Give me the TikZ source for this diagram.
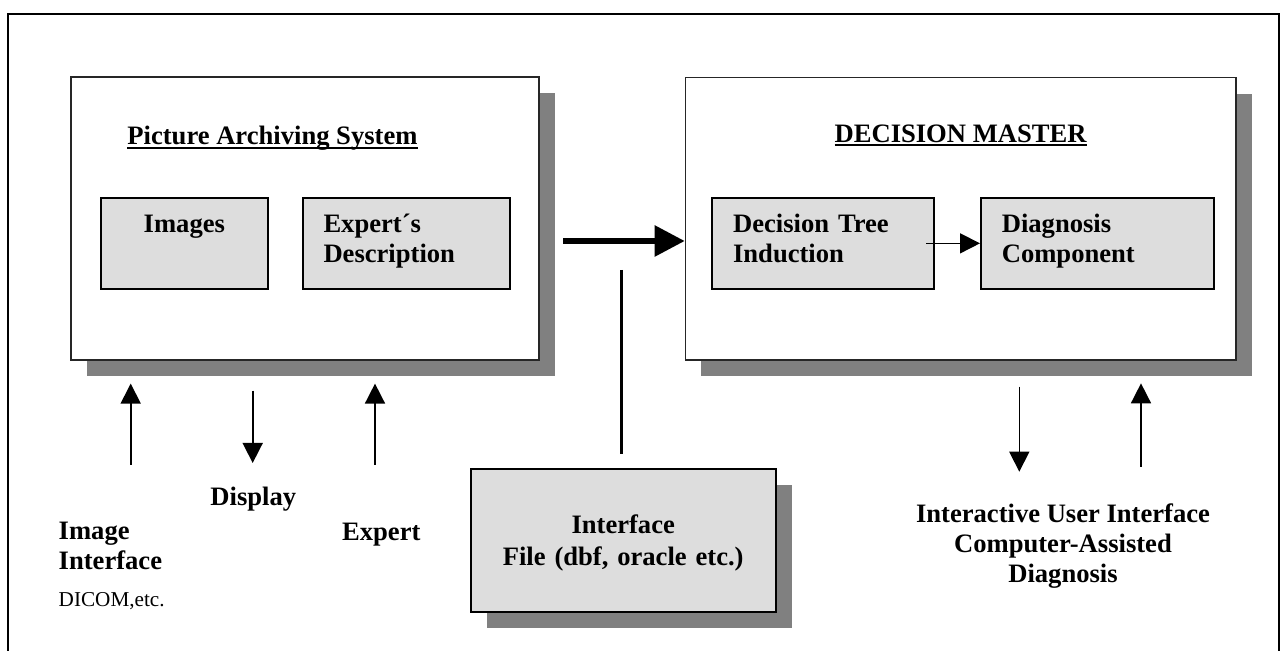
\documentclass[tikz,border=0pt]{standalone}
\usepackage{fontspec}
\setmainfont{Liberation Serif}
\usepackage{tikz}
\usetikzlibrary{arrows.meta,positioning,shadows}
\definecolor{boxgray}{HTML}{DDDDDD}
\definecolor{shadegray}{HTML}{808080}
\newcommand\lblfont{\fontsize{13.3pt}{15pt}\selectfont\bfseries}
\newcommand\smlfont{\fontsize{10.6pt}{12pt}\selectfont}
\newcommand\ttlline[1]{\setbox0\hbox{#1}\rlap{\vrule width\wd0 height -0.8pt depth 1.8pt}\box0}

\begin{document}
\begin{tikzpicture}[x=0.5pt, y=-0.5pt,
		>={Triangle[length=10pt,width=10pt]},
		node distance = 16pt,
		outbox/.style = {draw=black!85, line width=0.6pt, fill=white, inner sep=0pt,
			drop shadow={shadow xshift=8pt, shadow yshift=-8pt, fill=shadegray, opacity=1}},
		inbox/.style = {draw, line width=1pt, fill=boxgray, inner xsep=10.4pt, inner ysep=0pt,
			text height=17.65pt, text depth=28pt, align=left, font=\lblfont},
		lbl/.style = {inner sep=0pt, font=\lblfont},
		arr/.style = {->, line width=0.8pt},
		feedarr/.style = {-{Triangle[length=15pt,width=15pt]}, line width=2.8pt}
		]
		\useasboundingbox (0,0) rectangle (1287,651);
		\draw[line width=1.1pt] (8,651) -- (8,14) -- (1279,14) -- (1279,651);
		
		\node (pas) [outbox, minimum width=234pt, minimum height=141.5pt] at (305,218.5) {};
		\node (dm) [outbox, minimum width=275.35pt, minimum height=141.15pt] at (960.65,218.9) {};
		\node (pastitle) [lbl, anchor=base west] at (127,145) {\ttlline{Picture Archiving System}};
		\node (dmtitle) [lbl, anchor=base] at (960.6,142.7) {\ttlline{DECISION MASTER}};
		
		\node (img) [inbox, align=center, text width=62.85pt] at (184.35,243.35) {Images};
		\node (expd) [inbox, text width=82.85pt, right=16.35pt of img] {Expert´s\\Description};
		\node (dti) [inbox, text width=90.05pt] at (823.15,243.35) {Decision Tree\\Induction};
		\node (dc) [inbox, text width=95.85pt, right=22.5pt of dti] {Diagnosis\\Component};
		
		\node (iface) [outbox, draw=black, line width=1pt, fill=boxgray, align=center, text width=152.5pt,
			text height=32.65pt, text depth=38.85pt, font=\lblfont] at (623.2,540.2) {Interface\\[1pt]File (dbf, oracle etc.)};
		
		\node (imglbl) [lbl, anchor=base west, align=left] at (58.3,570) {Image\\Interface};
		\node (dicom) [inner sep=0pt, font=\smlfont, anchor=base west] at (58.3,606.7) {DICOM,etc.};
		\node (displbl) [lbl, anchor=base] at (253.3,506) {Display};
		\node (explbl) [lbl, anchor=base] at (381.3,541) {Expert};
		\node (cadlbl) [lbl, anchor=base, align=center] at (1063,583) {Interactive User Interface\\Computer-Assisted\\Diagnosis};
		
		\coordinate (in1) at (130.7,465);
		\coordinate (out1) at (252.7,463);
		\coordinate (in2) at (375,465);
		\coordinate (out2) at (1019.3,471.7);
		\coordinate (in3) at (1141,467);
		\coordinate (feed) at (563,241);
		\coordinate (link) at (621.3,270);
		
		\draw[arr, shorten >=11.5pt] (in1) -- (in1 |- pas.south);
		\draw[arr, shorten <=15pt] (out1 |- pas.south) -- (out1);
		\draw[arr, shorten >=11.5pt] (in2) -- (in2 |- pas.south);
		\draw[arr, shorten <=13pt] (out2 |- dm.south) -- (out2);
		\draw[arr, shorten >=11.35pt] (in3) -- (in3 |- dm.south);
		\draw[arr] ([xshift=-4.5pt]dti.east) -- (dc.west);
		\draw[feedarr] (feed) -- (feed -| dm.west);
		\draw[line width=1.65pt, shorten >=6.85pt] (link) -- (link |- iface.north);
		
\end{tikzpicture}
\end{document}
